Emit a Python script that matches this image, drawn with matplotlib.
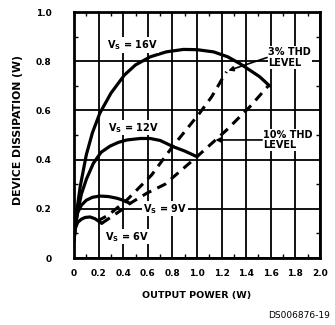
import matplotlib
matplotlib.use("Agg")
import matplotlib.pyplot as plt
from matplotlib.ticker import MultipleLocator

plt.rcParams['font.family'] = ['DejaVu Sans']
plt.rcParams['font.weight'] = 'bold'
plt.rcParams['axes.labelweight'] = 'bold'
plt.rcParams['mathtext.fontset'] = 'custom'
plt.rcParams['mathtext.bf'] = 'DejaVu Sans:bold'
plt.rcParams['mathtext.rm'] = 'DejaVu Sans:bold'
plt.rcParams['mathtext.default'] = 'bf'

# dissipation vs output power, one curve per supply voltage (W)
vs16_p = [0.0, 0.01, 0.025, 0.05, 0.1, 0.15, 0.21, 0.3, 0.41, 0.5, 0.62, 0.75, 0.89,
          1.0, 1.135, 1.25, 1.35, 1.45, 1.51, 1.59]
vs16_d = [0.07, 0.13, 0.20, 0.29, 0.42, 0.51, 0.589, 0.67, 0.744, 0.785, 0.818, 0.838, 0.848,
          0.847, 0.838, 0.818, 0.79, 0.757, 0.737, 0.70]

vs12_p = [0.0, 0.01, 0.03, 0.06, 0.1, 0.157, 0.22, 0.293, 0.36, 0.43, 0.54, 0.62, 0.7,
          0.81, 0.9, 1.0]
vs12_d = [0.08, 0.12, 0.19, 0.26, 0.32, 0.385, 0.43, 0.455, 0.47, 0.48, 0.486, 0.486, 0.478,
          0.452, 0.435, 0.412]

vs9_p = [0.0, 0.01, 0.03, 0.06, 0.1, 0.15, 0.21, 0.28, 0.35, 0.41, 0.455]
vs9_d = [0.10, 0.14, 0.185, 0.215, 0.235, 0.247, 0.252, 0.25, 0.243, 0.233, 0.222]

vs6_p = [0.0, 0.01, 0.03, 0.06, 0.09, 0.13, 0.17, 0.2, 0.225]
vs6_d = [0.07, 0.12, 0.145, 0.158, 0.165, 0.167, 0.16, 0.15, 0.141]

# distortion limit lines
thd3_p = [0.19, 0.28, 0.43, 0.63, 0.8, 1.02, 1.12, 1.2, 1.24]
thd3_d = [0.15, 0.175, 0.236, 0.337, 0.452, 0.588, 0.656, 0.724, 0.757]

thd10_p = [0.225, 0.40, 0.455, 0.59, 0.74, 1.0, 1.24, 1.43, 1.58]
thd10_d = [0.141, 0.20, 0.222, 0.263, 0.30, 0.412, 0.52, 0.615, 0.70]

x_ticks = [0, 0.2, 0.4, 0.6, 0.8, 1.0, 1.2, 1.4, 1.6, 1.8, 2.0]
x_labels = ["0", "0.2", "0.4", "0.6", "0.8", "1.0", "1.2", "1.4", "1.6", "1.8", "2.0"]
y_ticks = [0, 0.2, 0.4, 0.6, 0.8, 1.0]
y_labels = ["0", "0.2", "0.4", "0.6", "0.8", "1.0"]

fig = plt.figure(figsize=(3.35, 3.25), dpi=100)
ax = fig.add_axes([0.221, 0.206, 0.734, 0.757])

for p, d in [(vs16_p, vs16_d), (vs12_p, vs12_d), (vs9_p, vs9_d), (vs6_p, vs6_d)]:
    ax.plot(p, d, color="black", lw=2.3, solid_capstyle="round",
            solid_joinstyle="round", zorder=3)

for p, d in [(thd3_p, thd3_d), (thd10_p, thd10_d)]:
    ax.plot(p, d, color="black", lw=2.2, dashes=(3.2, 2.2), zorder=3)

ax.set_xlim(0, 2.0)
ax.set_ylim(0, 1.0)
ax.set_xticks(x_ticks)
ax.set_xticklabels(x_labels)
ax.set_yticks(y_ticks)
ax.set_yticklabels(y_labels)
ax.xaxis.set_minor_locator(MultipleLocator(0.1))
ax.yaxis.set_minor_locator(MultipleLocator(0.1))
ax.tick_params(which="major", length=0, labelsize=6.5)
ax.tick_params(axis="x", which="major", pad=8)
ax.tick_params(axis="y", which="major", pad=16)
ax.tick_params(which="minor", direction="in", length=3, width=1,
               top=True, right=True)
ax.grid(True, which="major", color="black", lw=1.3)
for s in ax.spines.values():
    s.set_linewidth(2)

ax.set_xlabel("OUTPUT POWER (W)", fontsize=6.8, labelpad=9)
ax.set_ylabel("DEVICE DISSIPATION (W)", fontsize=7.8, labelpad=9, y=0.52)

box = dict(facecolor="white", edgecolor="none", pad=0.5)
fs = 7
ax.text(0.27, 0.866, "V$_S$ = 16V", fontsize=fs, ha="left", va="center", bbox=box, zorder=4)
ax.text(0.28, 0.53, "V$_S$ = 12V", fontsize=fs, ha="left", va="center", bbox=box, zorder=4)
ax.text(0.56, 0.20, "V$_S$ = 9V", fontsize=fs, ha="left", va="center", bbox=box, zorder=4)
ax.text(0.25, 0.087, "V$_S$ = 6V", fontsize=fs, ha="left", va="center", bbox=box, zorder=4)

ax.text(1.58, 0.815, "3% THD\nLEVEL", fontsize=fs, ha="left", va="center",
        linespacing=1.1, bbox=box, zorder=4)
ax.text(1.54, 0.48, "10% THD\nLEVEL", fontsize=fs, ha="left", va="center",
        linespacing=1.1, bbox=box, zorder=4)
ax.annotate("", xy=(1.255, 0.762), xytext=(1.57, 0.815),
            arrowprops=dict(arrowstyle="-|>", color="black", lw=1.2,
                            mutation_scale=7, shrinkA=0, shrinkB=0), zorder=4)
ax.annotate("", xy=(1.15, 0.48), xytext=(1.53, 0.48),
            arrowprops=dict(arrowstyle="-|>", color="black", lw=1.2,
                            mutation_scale=7, shrinkA=0, shrinkB=0), zorder=4)

fig.text(0.985, 0.03, "DS006876-19", fontsize=6.5, fontweight="normal",
         ha="right", va="center")

fig.savefig("out.png", dpi=100)
